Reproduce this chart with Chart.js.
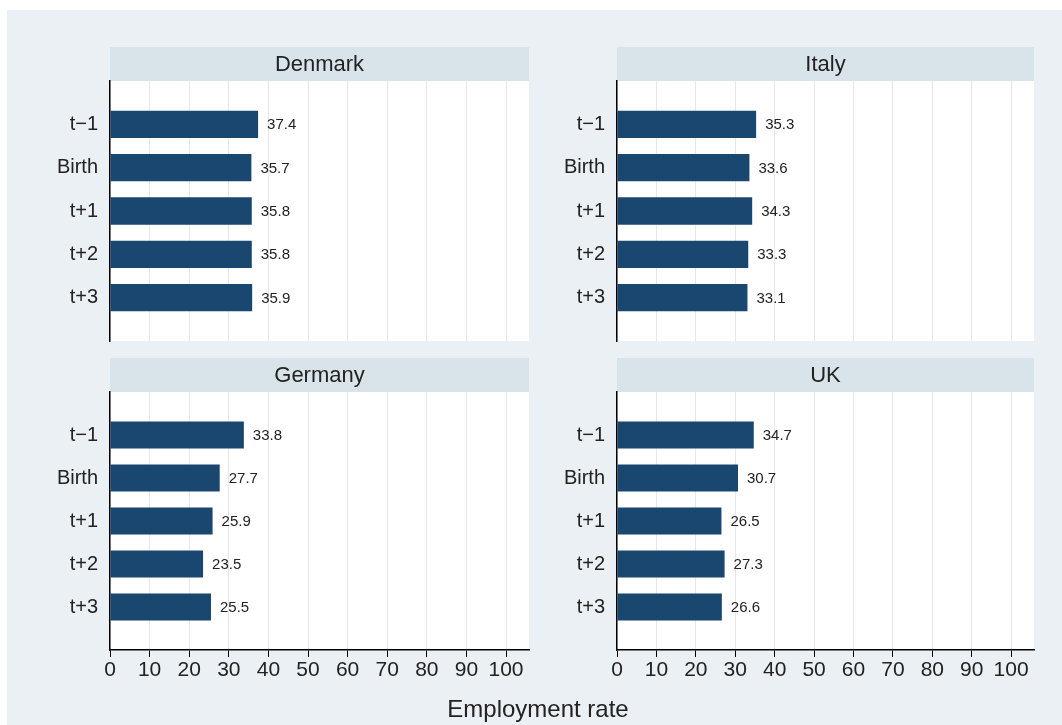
<!DOCTYPE html>
<html>
<head>
<meta charset="utf-8">
<script src="https://cdn.jsdelivr.net/npm/chart.js@4.4.1/dist/chart.umd.min.js"></script>
<style>
  body { margin: 0; background: #ffffff; width: 1062px; height: 725px; overflow: hidden; position: relative; font-family: "Liberation Sans", Arial, sans-serif; }
  #bg { position: absolute; left: 7px; top: 10px; right: 0; bottom: 0; background: #eaf0f3; }
  canvas { position: absolute; }
  #xtitle { position: absolute; left: 338px; width: 400px; top: 694px; line-height: 30px; text-align: center; font-size: 24px; color: #222; }
</style>
</head>
<body>
<div id="bg"></div>
<canvas id="denmark" width="540" height="365" style="left:0;top:0"></canvas>
<canvas id="italy" width="542" height="365" style="left:520px;top:0"></canvas>
<canvas id="germany" width="540" height="380" style="left:0;top:345px"></canvas>
<canvas id="uk" width="542" height="380" style="left:520px;top:345px"></canvas>
<div id="xtitle">Employment rate</div>
<script>
const categories = ['t\u22121', 'Birth', 't+1', 't+2', 't+3'];
const denmark = [37.4, 35.7, 35.8, 35.8, 35.9];
const italy = [35.3, 33.6, 34.3, 33.3, 33.1];
const germany = [33.8, 27.7, 25.9, 23.5, 25.5];
const uk = [34.7, 30.7, 26.5, 27.3, 26.6];
const xTickValues = [0, 10, 20, 30, 40, 50, 60, 70, 80, 90, 100];

const FONT = '"Liberation Sans", Arial, sans-serif';
const NAVY = '#1a476f';

// white plot region + grey header strip with the country name
const panelPlugin = {
    id: 'panel',
    beforeDraw(chart, args, opts) {
        const a = chart.chartArea;
        const ctx = chart.ctx;
        ctx.save();
        ctx.fillStyle = '#ffffff';
        ctx.fillRect(a.left, a.top, a.right - a.left, a.bottom - a.top);
        ctx.fillStyle = '#d8e3ea';
        ctx.fillRect(a.left, a.top - 34, a.right - a.left, 34);
        ctx.fillStyle = '#222';
        ctx.font = '22px ' + FONT;
        ctx.textAlign = 'center';
        ctx.textBaseline = 'middle';
        ctx.fillText(opts.title, (a.left + a.right) / 2, a.top - 16);
        ctx.restore();
    }
};

// value labels to the right of each bar
const valueLabels = {
    id: 'valueLabels',
    afterDatasetsDraw(chart) {
        const ctx = chart.ctx;
        const meta = chart.getDatasetMeta(0);
        const vals = chart.data.datasets[0].data;
        ctx.save();
        ctx.fillStyle = '#222';
        ctx.font = '15px ' + FONT;
        ctx.textAlign = 'left';
        ctx.textBaseline = 'middle';
        meta.data.forEach((bar, i) => {
            ctx.fillText(vals[i].x.toFixed(1), bar.x + 9, bar.y + 1);
        });
        ctx.restore();
    }
};

function makePanel(id, title, values, yWidth, padTop, padRight, padBottom, showX) {
    new Chart(document.getElementById(id), {
        type: 'bar',
        data: {
            datasets: [{
                data: values.map((v, i) => ({ x: v, y: i + 1 })),
                backgroundColor: NAVY,
                borderWidth: 0,
                categoryPercentage: 1,
                barPercentage: 0.63
            }]
        },
        options: {
            indexAxis: 'y',
            responsive: false,
            animation: false,
            devicePixelRatio: 1,
            layout: { padding: { top: padTop, right: padRight, bottom: padBottom, left: 0 } },
            plugins: {
                legend: { display: false },
                tooltip: { enabled: false },
                panel: { title: title }
            },
            scales: {
                y: {
                    type: 'linear',
                    min: 0,
                    max: 6,
                    reverse: true,
                    offset: false,
                    grid: { display: false, drawTicks: false, offset: false },
                    border: { display: true, color: '#000', width: 1.5 },
                    ticks: {
                        stepSize: 1,
                        padding: 12,
                        color: '#222',
                        font: { family: FONT, size: 20 },
                        callback: v => categories[v - 1] || ''
                    },
                    afterFit: s => { s.width = yWidth; }
                },
                x: {
                    type: 'linear',
                    min: 0,
                    max: 105.8,
                    afterBuildTicks: s => { s.ticks = xTickValues.map(v => ({ value: v })); },
                    grid: {
                        color: '#e4e8ea',
                        lineWidth: 1,
                        drawTicks: showX,
                        tickLength: 7,
                        tickColor: '#000'
                    },
                    border: { display: showX, color: '#000', width: 1.5 },
                    ticks: {
                        display: showX,
                        includeBounds: false,
                        padding: 1,
                        maxRotation: 0,
                        color: '#222',
                        font: { family: FONT, size: 21 }
                    },
                    afterFit: s => { s.height = showX ? 40 : 0; }
                }
            }
        },
        plugins: [panelPlugin, valueLabels]
    });
}

makePanel('denmark', 'Denmark', denmark, 110, 81, 11, 5, false);
makePanel('italy', 'Italy', italy, 97, 81, 28, 5, false);
makePanel('germany', 'Germany', germany, 110, 47, 11, 35, true);
makePanel('uk', 'UK', uk, 97, 47, 28, 35, true);
</script>
</body>
</html>
